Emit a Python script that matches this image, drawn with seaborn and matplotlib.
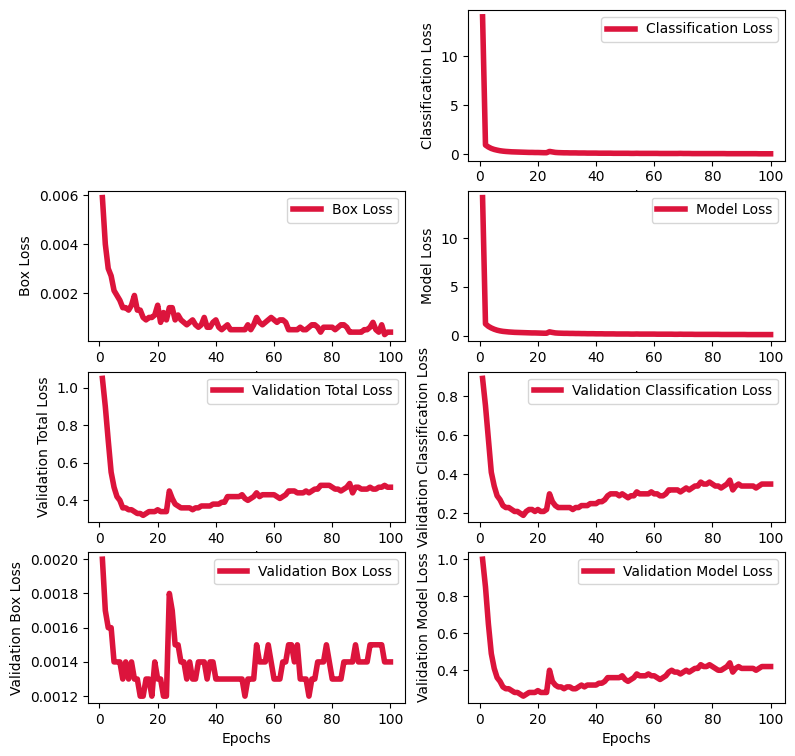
import matplotlib
matplotlib.use("Agg")
import matplotlib.pyplot as plt
import seaborn as sns
import numpy as np

epochs = list(range(1, 101))

classification_loss = [
    14.0, 0.95, 0.75, 0.60, 0.50, 0.43, 0.37, 0.33, 0.30, 0.28,
    0.26, 0.25, 0.24, 0.23, 0.22, 0.21, 0.20, 0.20, 0.19, 0.19,
    0.18, 0.17, 0.17, 0.30, 0.25, 0.20, 0.18, 0.17, 0.16, 0.16,
    0.15, 0.15, 0.15, 0.14, 0.14, 0.14, 0.13, 0.13, 0.13, 0.13,
    0.12, 0.12, 0.12, 0.12, 0.12, 0.11, 0.11, 0.11, 0.11, 0.11,
    0.11, 0.10, 0.10, 0.11, 0.10, 0.10, 0.10, 0.10, 0.10, 0.10,
    0.10, 0.09, 0.09, 0.09, 0.09, 0.09, 0.09, 0.09, 0.10, 0.09,
    0.09, 0.09, 0.08, 0.08, 0.08, 0.08, 0.08, 0.08, 0.08, 0.08,
    0.08, 0.08, 0.08, 0.08, 0.07, 0.07, 0.07, 0.07, 0.07, 0.07,
    0.07, 0.07, 0.07, 0.07, 0.07, 0.06, 0.06, 0.06, 0.06, 0.06]

box_loss = [
    0.0059, 0.0040, 0.0030, 0.0027, 0.0021, 0.0019, 0.0017, 0.0014, 0.0014, 0.0013,
    0.0015, 0.0019, 0.0013, 0.0013, 0.0010, 0.0009, 0.0010, 0.0010, 0.0011, 0.0015,
    0.0008, 0.0012, 0.0009, 0.0014, 0.0014, 0.0009, 0.0011, 0.0009, 0.0008, 0.0007,
    0.0008, 0.0009, 0.0007, 0.0006, 0.0007, 0.0010, 0.0006, 0.0006, 0.0008, 0.0009,
    0.0006, 0.0005, 0.0006, 0.0007, 0.0005, 0.0005, 0.0005, 0.0005, 0.0005, 0.0005,
    0.0007, 0.0005, 0.0007, 0.0010, 0.0008, 0.0007, 0.0008, 0.0009, 0.0010, 0.0009,
    0.0008, 0.0009, 0.0009, 0.0008, 0.0005, 0.0005, 0.0005, 0.0005, 0.0006, 0.0005,
    0.0005, 0.0006, 0.0007, 0.0007, 0.0006, 0.0004, 0.0006, 0.0006, 0.0006, 0.0006,
    0.0005, 0.0006, 0.0007, 0.0007, 0.0006, 0.0004, 0.0004, 0.0004, 0.0004, 0.0004,
    0.0005, 0.0005, 0.0006, 0.0008, 0.0005, 0.0004, 0.0007, 0.0003, 0.0004, 0.0004]

model_loss = [
    14.2, 1.20, 0.95, 0.78, 0.65, 0.55, 0.48, 0.43, 0.40, 0.37,
    0.35, 0.33, 0.32, 0.31, 0.30, 0.29, 0.28, 0.27, 0.27, 0.26,
    0.25, 0.24, 0.24, 0.38, 0.32, 0.27, 0.25, 0.24, 0.23, 0.23,
    0.22, 0.22, 0.21, 0.21, 0.20, 0.20, 0.19, 0.19, 0.19, 0.18,
    0.18, 0.18, 0.17, 0.17, 0.17, 0.17, 0.16, 0.16, 0.16, 0.16,
    0.16, 0.15, 0.15, 0.16, 0.15, 0.15, 0.15, 0.15, 0.15, 0.15,
    0.14, 0.14, 0.14, 0.14, 0.14, 0.14, 0.13, 0.13, 0.14, 0.13,
    0.13, 0.13, 0.13, 0.12, 0.12, 0.12, 0.12, 0.12, 0.12, 0.12,
    0.12, 0.12, 0.11, 0.11, 0.11, 0.11, 0.11, 0.11, 0.11, 0.11,
    0.11, 0.10, 0.10, 0.10, 0.10, 0.10, 0.10, 0.10, 0.10, 0.10]

val_total_loss = [
    1.05, 0.90, 0.72, 0.55, 0.47, 0.42, 0.40, 0.36, 0.36, 0.35,
    0.35, 0.34, 0.33, 0.33, 0.32, 0.33, 0.34, 0.34, 0.34, 0.35,
    0.34, 0.34, 0.34, 0.45, 0.41, 0.38, 0.37, 0.36, 0.36, 0.36,
    0.36, 0.35, 0.36, 0.36, 0.37, 0.37, 0.37, 0.37, 0.38, 0.38,
    0.38, 0.39, 0.39, 0.42, 0.42, 0.42, 0.42, 0.42, 0.43, 0.41,
    0.40, 0.41, 0.42, 0.44, 0.42, 0.43, 0.43, 0.43, 0.43, 0.43,
    0.42, 0.41, 0.42, 0.43, 0.45, 0.45, 0.45, 0.44, 0.44, 0.44,
    0.45, 0.44, 0.45, 0.46, 0.46, 0.48, 0.48, 0.48, 0.48, 0.47,
    0.46, 0.46, 0.45, 0.46, 0.47, 0.49, 0.44, 0.47, 0.47, 0.46,
    0.46, 0.46, 0.47, 0.46, 0.46, 0.47, 0.47, 0.48, 0.47, 0.47]

val_classification_loss = [
    0.89, 0.75, 0.58, 0.41, 0.34, 0.29, 0.27, 0.24, 0.23, 0.23,
    0.22, 0.21, 0.21, 0.20, 0.19, 0.21, 0.22, 0.22, 0.21, 0.22,
    0.21, 0.21, 0.22, 0.30, 0.26, 0.24, 0.23, 0.23, 0.23, 0.23,
    0.23, 0.22, 0.23, 0.23, 0.24, 0.24, 0.24, 0.25, 0.25, 0.25,
    0.26, 0.26, 0.27, 0.29, 0.30, 0.30, 0.30, 0.29, 0.30, 0.29,
    0.28, 0.29, 0.29, 0.31, 0.30, 0.30, 0.30, 0.30, 0.31, 0.30,
    0.30, 0.29, 0.29, 0.30, 0.32, 0.32, 0.32, 0.32, 0.31, 0.32,
    0.33, 0.32, 0.33, 0.34, 0.34, 0.36, 0.35, 0.35, 0.36, 0.35,
    0.34, 0.34, 0.33, 0.34, 0.35, 0.37, 0.32, 0.34, 0.35, 0.34,
    0.34, 0.34, 0.34, 0.34, 0.33, 0.34, 0.35, 0.35, 0.35, 0.35]

val_box_loss = [
    0.0020, 0.0017, 0.0016, 0.0016, 0.0014, 0.0014, 0.0014, 0.0013, 0.0014, 0.0013,
    0.0014, 0.0013, 0.0013, 0.0012, 0.0012, 0.0013, 0.0013, 0.0012, 0.0014, 0.0013,
    0.0013, 0.0012, 0.0012, 0.0018, 0.0017, 0.0015, 0.0015, 0.0014, 0.0014, 0.0013,
    0.0014, 0.0013, 0.0013, 0.0014, 0.0014, 0.0014, 0.0013, 0.0014, 0.0014, 0.0013,
    0.0013, 0.0013, 0.0013, 0.0013, 0.0013, 0.0013, 0.0013, 0.0013, 0.0013, 0.0012,
    0.0013, 0.0013, 0.0013, 0.0015, 0.0014, 0.0014, 0.0014, 0.0015, 0.0014, 0.0013,
    0.0013, 0.0013, 0.0014, 0.0014, 0.0015, 0.0015, 0.0014, 0.0015, 0.0013, 0.0013,
    0.0013, 0.0012, 0.0013, 0.0013, 0.0014, 0.0014, 0.0014, 0.0015, 0.0014, 0.0013,
    0.0013, 0.0013, 0.0013, 0.0014, 0.0014, 0.0014, 0.0014, 0.0015, 0.0014, 0.0014,
    0.0014, 0.0014, 0.0015, 0.0015, 0.0015, 0.0015, 0.0015, 0.0014, 0.0014, 0.0014]

val_model_loss = [
    1.00, 0.85, 0.65, 0.49, 0.41, 0.36, 0.34, 0.31, 0.30, 0.30,
    0.29, 0.28, 0.28, 0.27, 0.26, 0.27, 0.28, 0.28, 0.28, 0.29,
    0.28, 0.28, 0.28, 0.40, 0.34, 0.32, 0.31, 0.31, 0.30, 0.31,
    0.31, 0.30, 0.30, 0.31, 0.32, 0.31, 0.32, 0.32, 0.32, 0.32,
    0.33, 0.33, 0.34, 0.36, 0.36, 0.36, 0.36, 0.36, 0.37, 0.35,
    0.34, 0.35, 0.36, 0.38, 0.37, 0.37, 0.37, 0.38, 0.37, 0.37,
    0.36, 0.35, 0.36, 0.37, 0.39, 0.40, 0.39, 0.39, 0.38, 0.39,
    0.40, 0.39, 0.40, 0.41, 0.41, 0.43, 0.42, 0.42, 0.43, 0.42,
    0.41, 0.40, 0.40, 0.41, 0.42, 0.44, 0.39, 0.41, 0.42, 0.41,
    0.41, 0.41, 0.41, 0.41, 0.40, 0.41, 0.42, 0.42, 0.42, 0.42]

panels = [
    (1, classification_loss, "Classification Loss"),
    (2, box_loss, "Box Loss"),
    (3, model_loss, "Model Loss"),
    (4, val_total_loss, "Validation Total Loss"),
    (5, val_classification_loss, "Validation Classification Loss"),
    (6, val_box_loss, "Validation Box Loss"),
    (7, val_model_loss, "Validation Model Loss"),
]

fig, axes = plt.subplots(4, 2, figsize=(7.95, 7.56), dpi=100)
fig.subplots_adjust(left=0.1107, right=0.9874, bottom=0.0701, top=0.9868,
                    wspace=0.2, hspace=0.2)
axes = axes.flatten()
axes[0].axis("off")

for idx, vals, name in panels:
    ax = axes[idx]
    sns.lineplot(x=epochs, y=vals, ax=ax, color="crimson", linewidth=4, label=name)
    ax.set_xlabel("Epochs")
    ax.set_ylabel(name)
    ax.legend(loc="upper right")

fig.savefig("out.png", dpi=100)
